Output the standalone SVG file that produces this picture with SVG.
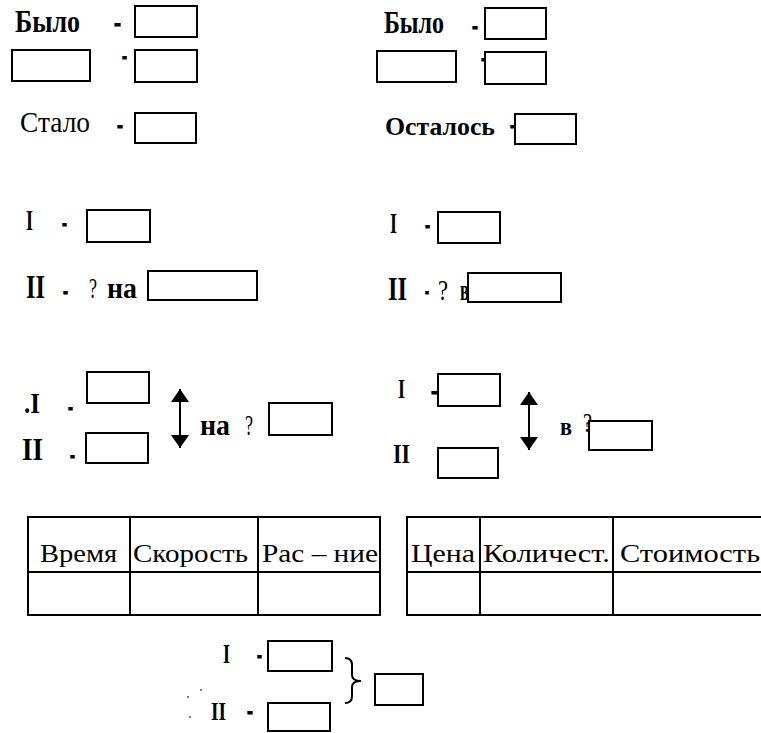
<svg xmlns="http://www.w3.org/2000/svg" width="761" height="733" viewBox="0 0 761 733">
<defs>
<style>
.b{fill:#fff;stroke:#000;stroke-width:2}
.t{font-family:"Liberation Serif","DejaVu Serif",serif;font-size:27px;fill:#000}
.bd{font-weight:bold}
.d{font-family:"Liberation Serif","DejaVu Serif",serif;font-size:30px;font-weight:bold;fill:#000;stroke:#000;stroke-width:1}
.s24{font-size:24px}
.s26{font-size:26px}
.s28{font-size:28px}
.s30{font-size:30px}
.s32{font-size:32px}
.s34{font-size:34px}
.tb{fill:none;stroke:#000;stroke-width:2}
.ln{stroke:#000;stroke-width:2;fill:none}
</style>
<marker id="ah" viewBox="0 0 13 18" refX="13" refY="9" markerWidth="13" markerHeight="18" markerUnits="userSpaceOnUse" orient="auto-start-reverse">
<path d="M0,0 L13,9 L0,18 Z" fill="#000"/>
</marker>
</defs>
<rect width="761" height="733" fill="#fff"/>

<g id="n-bylo1">
<text class="t bd s32" x="15" y="32" textLength="65" lengthAdjust="spacingAndGlyphs">Было</text>
<text class="d" x="114" y="32" textLength="7" lengthAdjust="spacingAndGlyphs">-</text>
<rect class="b" x="135" y="6" width="62" height="31"/>
</g>
<g id="n-row2-left">
<rect class="b" x="12" y="50" width="78" height="31"/>
<text class="d" x="122" y="65" textLength="5" lengthAdjust="spacingAndGlyphs">-</text>
<rect class="b" x="135" y="50" width="62" height="32"/>
</g>
<g id="n-stalo">
<text class="t s30" x="20" y="132" textLength="70" lengthAdjust="spacingAndGlyphs">Стало</text>
<text class="d" x="117" y="134" textLength="6" lengthAdjust="spacingAndGlyphs">-</text>
<rect class="b" x="135" y="113" width="61" height="30"/>
</g>

<g id="n-bylo2">
<text class="t bd s32" x="384" y="33" textLength="60" lengthAdjust="spacingAndGlyphs">Было</text>
<text class="d" x="472" y="35" textLength="6" lengthAdjust="spacingAndGlyphs">-</text>
<rect class="b" x="485" y="8" width="61" height="31"/>
</g>
<g id="n-row2-right">
<rect class="b" x="377" y="51" width="79" height="31"/>
<text class="d" x="481" y="67" textLength="5" lengthAdjust="spacingAndGlyphs">-</text>
<rect class="b" x="485" y="52" width="61" height="32"/>
</g>
<g id="n-ostalos">
<text class="t bd s26" x="385" y="135" textLength="110" lengthAdjust="spacingAndGlyphs">Осталось</text>
<text class="d" x="510" y="134" textLength="5" lengthAdjust="spacingAndGlyphs">-</text>
<rect class="b" x="515" y="114" width="61" height="30"/>
</g>

<g id="n-cmp-left">
<text class="t bd s30" x="26" y="230" textLength="7" lengthAdjust="spacingAndGlyphs">I</text>
<text class="d" x="62" y="232" textLength="5" lengthAdjust="spacingAndGlyphs">-</text>
<rect class="b" x="87" y="210" width="63" height="32"/>
<text class="t bd s34" x="26" y="298" textLength="19" lengthAdjust="spacingAndGlyphs">II</text>
<text class="d" x="63" y="300" textLength="5" lengthAdjust="spacingAndGlyphs">-</text>
<text class="t s30" x="89" y="298" textLength="8" lengthAdjust="spacingAndGlyphs">?</text>
<text class="t bd s30" x="107" y="298" textLength="30" lengthAdjust="spacingAndGlyphs">на</text>
<rect class="b" x="148" y="271" width="109" height="29"/>
</g>

<g id="n-cmp-right">
<text class="t bd s30" x="390" y="233" textLength="7" lengthAdjust="spacingAndGlyphs">I</text>
<text class="d" x="425" y="234" textLength="5" lengthAdjust="spacingAndGlyphs">-</text>
<rect class="b" x="438" y="212" width="62" height="31"/>
<text class="t bd s34" x="388" y="300" textLength="19" lengthAdjust="spacingAndGlyphs">II</text>
<text class="d" x="425" y="300" textLength="4" lengthAdjust="spacingAndGlyphs">-</text>
<text class="t s30" x="438" y="300" textLength="10" lengthAdjust="spacingAndGlyphs">?</text>
<text class="t bd s30" x="460" y="300" textLength="9" lengthAdjust="spacingAndGlyphs">в</text>
<rect class="b" x="468" y="273" width="93" height="29"/>
</g>

<g id="n-diff-left">
<text class="t bd s30" x="24" y="413" textLength="16" lengthAdjust="spacingAndGlyphs">.I</text>
<text class="d" x="68" y="416" textLength="5" lengthAdjust="spacingAndGlyphs">-</text>
<rect class="b" x="87" y="372" width="62" height="31"/>
<text class="t bd s32" x="22" y="460" textLength="21" lengthAdjust="spacingAndGlyphs">II</text>
<text class="d" x="70" y="464" textLength="5" lengthAdjust="spacingAndGlyphs">-</text>
<rect class="b" x="86" y="433" width="62" height="30"/>
<text class="t bd s30" x="200" y="435" textLength="30" lengthAdjust="spacingAndGlyphs">на</text>
<text class="t s30" x="245" y="435" textLength="8" lengthAdjust="spacingAndGlyphs">?</text>
<rect class="b" x="269" y="403" width="63" height="32"/>
</g>

<g id="n-diff-right">
<text class="t bd s28" x="398" y="398" textLength="7" lengthAdjust="spacingAndGlyphs">I</text>
<text class="d" x="431" y="400" textLength="7" lengthAdjust="spacingAndGlyphs">-</text>
<rect class="b" x="438" y="374" width="62" height="32"/>
<text class="t bd s28" x="393" y="463" textLength="17" lengthAdjust="spacingAndGlyphs">II</text>
<rect class="b" x="438" y="448" width="60" height="30"/>
<text class="t bd s26" x="560" y="435" textLength="12" lengthAdjust="spacingAndGlyphs">в</text>
<text class="t s28" x="583" y="432" textLength="9" lengthAdjust="spacingAndGlyphs">?</text>
<rect class="b" x="589" y="421" width="63" height="29"/>
</g>

<g id="n-table-motion">
<rect class="tb" x="28" y="517" width="352" height="98"/>
<line class="ln" x1="28" y1="572" x2="380" y2="572"/>
<line class="ln" x1="130" y1="517" x2="130" y2="615"/>
<line class="ln" x1="258" y1="517" x2="258" y2="615"/>
<text class="t s26" x="40" y="562" textLength="77" lengthAdjust="spacingAndGlyphs">Время</text>
<text class="t s26" x="133" y="562" textLength="115" lengthAdjust="spacingAndGlyphs">Скорость</text>
<text class="t s26" x="262" y="562" textLength="116" lengthAdjust="spacingAndGlyphs">Рас – ние</text>
</g>

<g id="n-table-price">
<path class="ln" d="M761,517 L407,517 L407,615 L761,615"/>
<line class="ln" x1="407" y1="572" x2="761" y2="572"/>
<line class="ln" x1="480" y1="517" x2="480" y2="615"/>
<line class="ln" x1="613" y1="517" x2="613" y2="615"/>
<text class="t s26" x="411" y="562" textLength="64" lengthAdjust="spacingAndGlyphs">Цена</text>
<text class="t s26" x="483" y="562" textLength="127" lengthAdjust="spacingAndGlyphs">Количест.</text>
<text class="t s26" x="620" y="562" textLength="140" lengthAdjust="spacingAndGlyphs">Стоимость</text>
</g>

<g id="n-sum">
<text class="t bd s28" x="223" y="663" textLength="7" lengthAdjust="spacingAndGlyphs">I</text>
<text class="d" x="257" y="664" textLength="5" lengthAdjust="spacingAndGlyphs">-</text>
<rect class="b" x="268" y="641" width="64" height="30"/>
<text class="t bd s26" x="211" y="720" textLength="15" lengthAdjust="spacingAndGlyphs">II</text>
<text class="d" x="247" y="720" textLength="6" lengthAdjust="spacingAndGlyphs">-</text>
<rect class="b" x="268" y="703" width="62" height="28"/>
<rect class="b" x="375" y="674" width="48" height="31"/>
<circle cx="188" cy="697" r="1" fill="#555"/>
<circle cx="201" cy="690" r="1" fill="#555"/>
<circle cx="190" cy="717" r="1" fill="#555"/>
</g>

<g id="connectors">
<line class="ln" x1="180" y1="389" x2="180" y2="448" marker-start="url(#ah)" marker-end="url(#ah)"/>
<line class="ln" x1="529" y1="392" x2="529" y2="450" marker-start="url(#ah)" marker-end="url(#ah)"/>
<path class="ln" d="M345,658 Q352,658 352,665 L352,675 Q352,681 361,681 Q352,681 352,687 L352,696 Q352,703 345,703"/>
</g>
</svg>
